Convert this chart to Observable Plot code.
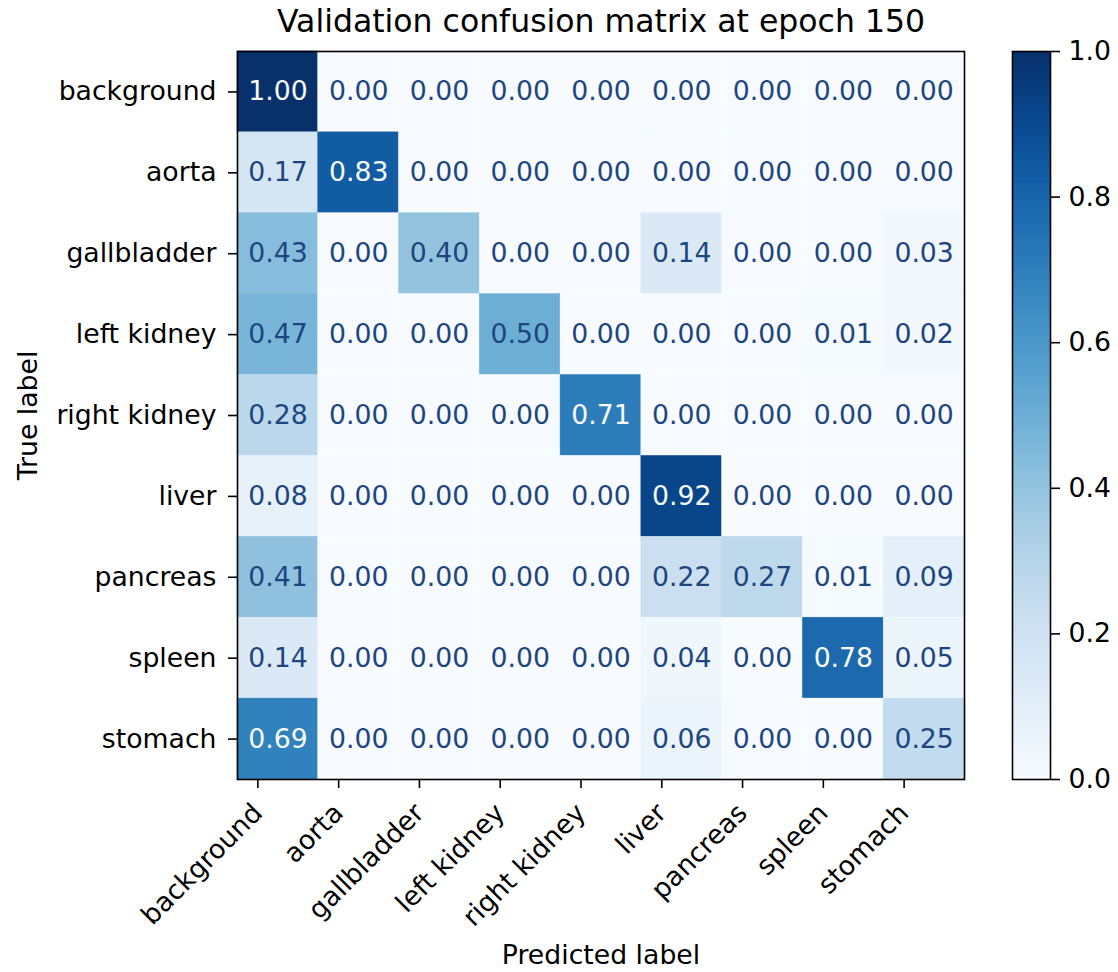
<!DOCTYPE html>
<html>
<head>
<meta charset="utf-8">
<script src="https://cdn.jsdelivr.net/npm/d3@7"></script>
<script src="https://cdn.jsdelivr.net/npm/@observablehq/plot@0.6"></script>
<style>
  html, body { margin: 0; padding: 0; background: #fff; }
  #fig { position: relative; width: 1118px; height: 972px; font-family: "DejaVu Sans", sans-serif; }
  #main { position: absolute; left: 0; top: 0; }
  #cbar { position: absolute; left: 1000px; top: 0; }
</style>
</head>
<body>
<div id="fig">
  <div id="main"></div>
  <div id="cbar"></div>
</div>
<script>
const title = "Validation confusion matrix at epoch 150";
const xLabel = "Predicted label";
const yLabel = "True label";
const classes = ["background", "aorta", "gallbladder", "left kidney", "right kidney", "liver", "pancreas", "spleen", "stomach"];
const rowBackground = [1.00, 0.00, 0.00, 0.00, 0.00, 0.00, 0.00, 0.00, 0.00];
const rowAorta      = [0.17, 0.83, 0.00, 0.00, 0.00, 0.00, 0.00, 0.00, 0.00];
const rowGallbladder= [0.43, 0.00, 0.40, 0.00, 0.00, 0.14, 0.00, 0.00, 0.03];
const rowLeftKidney = [0.47, 0.00, 0.00, 0.50, 0.00, 0.00, 0.00, 0.01, 0.02];
const rowRightKidney= [0.28, 0.00, 0.00, 0.00, 0.71, 0.00, 0.00, 0.00, 0.00];
const rowLiver      = [0.08, 0.00, 0.00, 0.00, 0.00, 0.92, 0.00, 0.00, 0.00];
const rowPancreas   = [0.41, 0.00, 0.00, 0.00, 0.00, 0.22, 0.27, 0.01, 0.09];
const rowSpleen     = [0.14, 0.00, 0.00, 0.00, 0.00, 0.04, 0.00, 0.78, 0.05];
const rowStomach    = [0.69, 0.00, 0.00, 0.00, 0.00, 0.06, 0.00, 0.00, 0.25];
const colorTicks = [0, 0.2, 0.4, 0.6, 0.8, 1.0];

const rows = [rowBackground, rowAorta, rowGallbladder, rowLeftKidney, rowRightKidney, rowLiver, rowPancreas, rowSpleen, rowStomach];
const cells = [];
rows.forEach((r, i) => r.forEach((v, j) => cells.push({truth: classes[i], pred: classes[j], v})));

const FONT = "DejaVu Sans, sans-serif";
const lo = "#f7fbff", hi = "#1d4580";
const FS = 26.7;

const main = Plot.plot({
  width: 1000,
  height: 972,
  marginLeft: 237,
  marginRight: 36,
  marginTop: 51,
  marginBottom: 193,
  style: {fontFamily: FONT, fontSize: FS + "px", color: "#000", background: "transparent", overflow: "visible"},
  x: {type: "band", domain: classes, padding: 0, round: false, label: null},
  y: {type: "band", domain: classes, padding: 0, round: false, label: null},
  color: {type: "linear", scheme: "blues", domain: [0, 1]},
  marks: [
    Plot.cell(cells, {x: "pred", y: "truth", fill: "v", inset: 0, stroke: "v", strokeWidth: 0.5}),
    Plot.text(cells, {x: "pred", y: "truth", text: d => d.v.toFixed(2), fill: d => d.v > 0.5 ? lo : hi, fontSize: FS}),
    Plot.frame({stroke: "#000", strokeWidth: 1.6}),
    Plot.axisX({anchor: "bottom", tickSize: 9, tickPadding: 20, dx: -20, tickRotate: -45, fontSize: FS, label: null, strokeWidth: 1.6}),
    Plot.axisY({anchor: "left", tickSize: 9, tickPadding: 12, fontSize: FS, label: null, strokeWidth: 1.6}),
    Plot.text([yLabel], {frameAnchor: "left", dx: -209, rotate: -90, textAnchor: "middle", fontSize: FS, fill: "#000"}),
    Plot.text([xLabel], {frameAnchor: "bottom", dy: 184, textAnchor: "middle", fontSize: FS, fill: "#000"}),
    Plot.text([title], {frameAnchor: "top", dy: -20, lineAnchor: "bottom", textAnchor: "middle", fontSize: 31.5, fill: "#000"})
  ]
});
document.getElementById("main").appendChild(main);

const N = 256;
const strips = d3.range(N).map(i => ({a: i / N, b: (i + 1) / N, m: (i + 0.5) / N}));
const cbar = Plot.plot({
  width: 118,
  height: 972,
  marginLeft: 12,
  marginRight: 68,
  marginTop: 51,
  marginBottom: 193,
  style: {fontFamily: FONT, fontSize: FS + "px", color: "#000", background: "transparent", overflow: "visible"},
  x: {domain: [0, 1], axis: null},
  y: {domain: [0, 1], label: null},
  color: {type: "linear", scheme: "blues", domain: [0, 1]},
  marks: [
    Plot.rect(strips, {x1: 0, x2: 1, y1: "a", y2: "b", fill: "m", shapeRendering: "crispEdges", stroke: "m", strokeWidth: 0.6}),
    Plot.frame({stroke: "#000", strokeWidth: 1.6}),
    Plot.axisY({anchor: "right", ticks: colorTicks, tickFormat: d3.format(".1f"), tickSize: 9, tickPadding: 9, fontSize: FS, label: null, strokeWidth: 1.6})
  ]
});
document.getElementById("cbar").appendChild(cbar);
</script>
</body>
</html>
